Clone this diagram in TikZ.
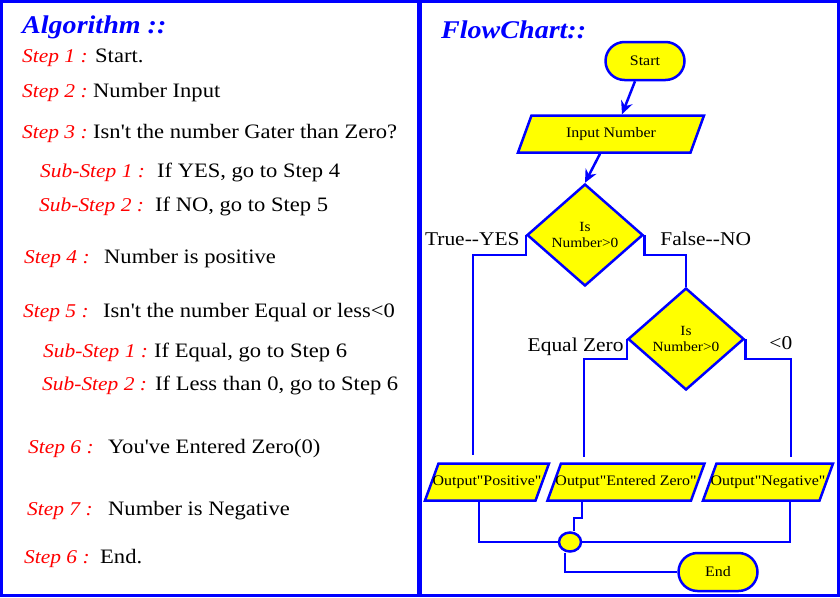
\documentclass[tikz,border=0pt]{standalone}
\usepackage{fontspec}
\setmainfont{Liberation Serif}[Ligatures = TeXOff, FakeStretch = 1.1]
\usetikzlibrary{shapes.geometric, shapes.misc, arrows.meta, positioning}
\definecolor{fcblue}{RGB}{0,0,255}
\definecolor{fcyellow}{RGB}{255,255,0}
\definecolor{fcred}{RGB}{255,0,0}
\tikzset{
    frame/.style = {draw = fcblue, line width = 3pt},
    fcshape/.style = {draw = fcblue, line width = 2.5pt, fill = fcyellow, inner sep = 0pt, font = \fontsize{14.5}{17}\selectfont},
    terminal/.style = {fcshape, rounded rectangle, minimum width = 79pt, minimum height = 38pt},
    io/.style = {fcshape, trapezium, trapezium left angle = 70, trapezium right angle = 110, trapezium stretches body,
        text height = 11pt, text depth = 3.5pt, inner xsep = -12pt, inner ysep = 11.25pt},
    decision/.style = {fcshape, diamond, minimum width = 116pt, minimum height = 102pt, align = center, font = \fontsize{14}{16}\selectfont},
    joint/.style = {fcshape, ellipse, minimum width = 22pt, minimum height = 19pt},
    flow/.style = {draw = fcblue, line width = 2.5pt},
    arrow/.style = {flow, -{Stealth[length = 13pt, width = 12pt]}},
    branch/.style = {inner sep = 0pt, text depth = 0pt, font = \fontsize{19.5}{23}\selectfont},
    heading/.style = {text = fcblue, font = \fontsize{25.5}{29}\selectfont\bfseries\itshape},
    steplabel/.style = {text = fcred, font = \fontsize{19.5}{23}\selectfont\itshape},
    steptext/.style = {font = \fontsize{20.5}{24}\selectfont}
}
\begin{document}
\begin{tikzpicture}[x = 1pt, y = -1pt]
        \useasboundingbox (0,0) rectangle (840,597);
        \draw[style = frame] (1.5,1.5) rectangle (838.5,595.5);
        \draw[style = frame, line width = 4.5pt] (419.5,0) -- (419.5,597);
        \begin{scope}[every node/.append style = {anchor = base west, inner sep = 0pt}]
            \node[style = heading] (algo) at (22,33) {Algorithm ::};
            \foreach \lx/\tx/\y/\lab/\txt [count = \i] in {
                22/95/62/Step 1 :/Start.,
                22/93/97/Step 2 :/Number Input,
                22/93/138/Step 3 :/Isn't the number Gater than Zero?,
                40/157/177/Sub-Step 1 :/{If YES, go to Step 4},
                39/155/211/Sub-Step 2 :/{If NO, go to Step 5},
                24/104/263/Step 4 :/Number is positive,
                23/103/317/Step 5 :/Isn't the number Equal or less<0,
                43/154/357/Sub-Step 1 :/{If Equal, go to Step 6},
                42/155/390/Sub-Step 2 :/{If Less than 0, go to Step 6},
                28/108/453/Step 6 :/You've Entered Zero(0),
                27/108/515/Step 7 :/Number is Negative,
                24/100/563/Step 6 :/End.} {
                \node[style = steplabel] (lab\i) at (\lx,\y) {\lab};
                \node[style = steptext] (txt\i) at (\tx,\y) {\txt};
            }
            \node[style = heading] (fctitle) at (441,38) {FlowChart::};
        \end{scope}
        \node[terminal] (start) at (645,61) {Start};
        \node[io, minimum width = 186pt] (inp) at (611,134) {Input Number};
        \node[decision] (isgt) at (585,235) {Is\\Number>0};
        \node[decision] (iseq) at (686,339) {Is\\Number>0};
        \node[io, minimum width = 124pt] (pos) at (487,482) {Output"Positive"};
        \node[io, minimum width = 157pt] (zero) at (626,482) {Output"Entered Zero"};
        \node[io, minimum width = 130pt] (neg) at (768,482) {Output"Negative"};
        \node[joint] (jn) at (570,542) {};
        \node[terminal] (end) at (718,572) {End};
        \draw[arrow] ([xshift = -10pt]start.south) -- ([xshift = 11pt]inp.north);
        \draw[arrow] ([xshift = -11pt]inp.south) -- (isgt.north);
        \draw[flow] (isgt.west) -- ++(0,20) -| ([xshift = -14pt, yshift = 7pt]pos.north);
        \draw[flow] (isgt.east) -- ++(0,20) -| (iseq.north);
        \draw[flow] (iseq.west) -- ++(0,20) -| ([xshift = -42pt, yshift = 5pt]zero.north);
        \draw[flow] (iseq.east) -- ++(0,20) -| ([xshift = 23pt, yshift = 5pt]neg.north);
        \node[branch, left = 6pt of isgt.west, yshift = -4pt] (yes) {True--YES};
        \node[branch, right = 16pt of isgt.east, yshift = -4pt] (no) {False--NO};
        \node[branch, left = 3pt of iseq.west, yshift = -6pt] (eqz) {Equal Zero};
        \node[branch, right = 24pt of iseq.east, yshift = -4pt] (ltz) {<0};
        \draw[flow] ([xshift = -8pt]pos.south) |- (jn.west);
        \draw[flow] ([xshift = -44pt]zero.south) -- ++(0,16) -| ([xshift = 4pt]jn.north);
        \draw[flow] ([xshift = 22pt]neg.south) |- (jn.east);
        \draw[flow] ([xshift = -5pt]jn.south) |- (end.west);
\end{tikzpicture}
\end{document}
